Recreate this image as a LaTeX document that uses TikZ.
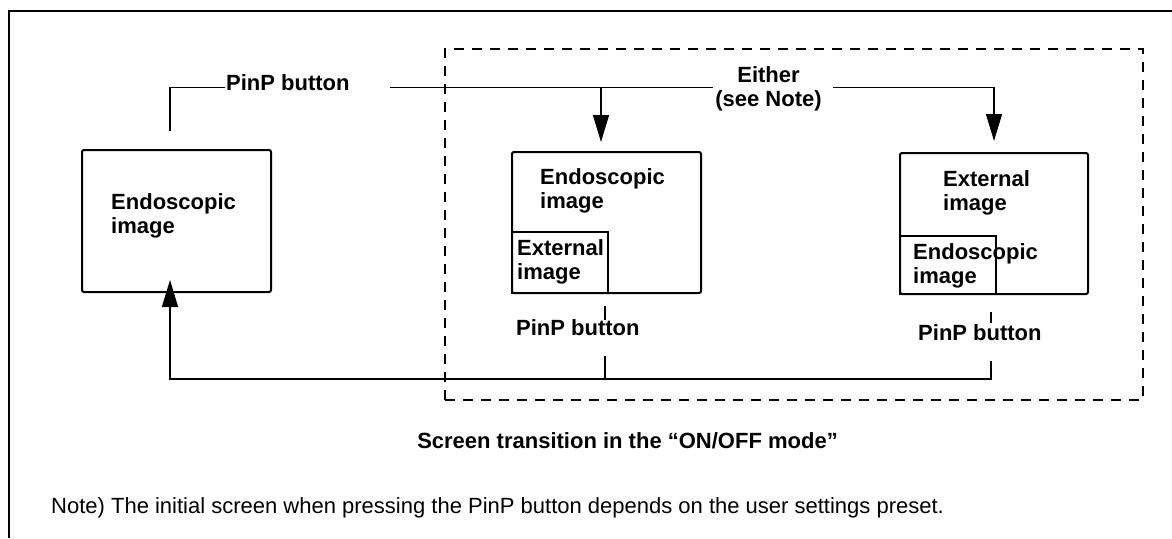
\documentclass[tikz,border=0pt]{standalone}
\usepackage{fontspec}
\setmainfont{Liberation Sans}
\usetikzlibrary{arrows.meta}
\begin{document}
\begin{tikzpicture}[x=1pt,y=-1pt,
  screenbox/.style={draw, line width=2pt, rounded corners=2pt, inner sep=0pt},
  insetbox/.style={draw, line width=2pt, inner sep=0pt},
  lbl/.style={font=\bfseries\fontsize{22}{24}\selectfont, align=left, inner sep=0pt, anchor=base west},
  conn/.style={line width=1.3pt},
  arrowconn/.style={conn, -{Triangle[length=27pt,width=16pt]}},
  frameline/.style={line width=1.6pt},
  groupbox/.style={draw, line width=1.5pt, dash pattern=on 10pt off 8pt, inner sep=0pt}]
\useasboundingbox (0,0) rectangle (1172,538);

% frame
\coordinate (fbl) at (9,538);
\coordinate (ftl) at (9,11);
\coordinate (ftr) at (1172,11);
\draw[frameline] (fbl) -- (ftl) -- (ftr);

% dashed group
\node[groupbox, minimum width=698pt, minimum height=351pt] (grp) at (794,224.5) {};

% screens
\node[screenbox, minimum width=189pt, minimum height=142pt] (L) at (176.5,221) {};
\node[screenbox, minimum width=189pt, minimum height=141pt] (M) at (606.5,222.5) {};
\node[insetbox, minimum width=96pt, minimum height=61pt] (Mi) at (560,262.5) {};
\node[screenbox, minimum width=188pt, minimum height=141pt] (R) at (994,223.5) {};
\node[insetbox, minimum width=96pt, minimum height=58pt] (Ri) at (948,265) {};

% texts in screens (anchor = baseline of last line)
\node[lbl] (Lt) at (111,233) {Endoscopic\\image};
\node[lbl] (Mt) at (540,208) {Endoscopic\\image};
\node[lbl] (Mit) at (517,279) {External\\image};
\node[lbl] (Rt) at (943,210) {External\\image};
\node[lbl] (Rit) at (913,283) {Endoscopic\\image};

% labels
\node[lbl] (p0) at (226,90) {PinP button};
\node[lbl, align=center, anchor=base] (either) at (768.5,106) {Either\\(see Note)};
\node[lbl] (p1) at (516,335) {PinP button};
\node[lbl] (p2) at (918,340) {PinP button};
\node[lbl, anchor=base] (title) at (627.5,448) {Screen transition in the “ON/OFF mode”};
\node[font=\fontsize{22}{24}\selectfont, inner sep=0pt, anchor=base west] (note) at (51,513)
  {Note) The initial screen when pressing the PinP button depends on the user settings preset.};

% top connectors
\coordinate (t0) at (170,131);
\coordinate (t1) at (170,87.5);
\coordinate (t2) at (225,87.5);
\coordinate (t3) at (390,87.5);
\coordinate (t4) at (713,87.5);
\coordinate (t5) at (833,87.5);
\coordinate (t6) at (994,87.5);
\coordinate (mA) at (601,87.5);
\draw[conn] (t0) -- (t1) -- (t2);
\draw[conn] (t3) -- (t4);
\draw[arrowconn] (mA) -- ([yshift=9pt]M.north -| mA);
\draw[arrowconn] (t5) -- (t6) -- ([yshift=11pt]R.north -| t6);

% bottom connectors
\coordinate (m1) at (605,306);
\coordinate (m2) at (605,320);
\coordinate (m3) at (605,356);
\coordinate (m4) at (605,379);
\coordinate (r1) at (991,312);
\coordinate (r2) at (991,323);
\coordinate (r3) at (991,361);
\coordinate (r4) at (991,379);
\coordinate (l4) at (170,379);
\draw[conn] (m1) -- (m2);
\draw[conn] (m3) -- (m4);
\draw[conn] (r1) -- (r2);
\draw[arrowconn] (r3) -- (r4) -- (l4) -- ([yshift=13pt]L.south -| l4);
\end{tikzpicture}
\end{document}
